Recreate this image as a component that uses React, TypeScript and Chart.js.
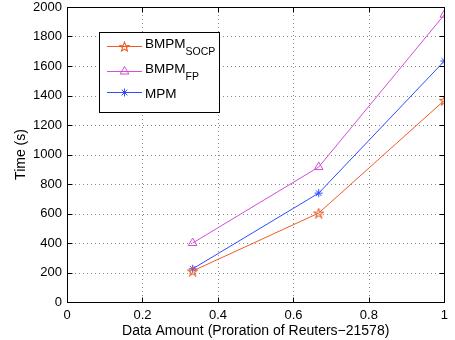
import React, { useEffect, useRef } from "react";
import { Chart, registerables } from "chart.js";
import { drawPoint } from "chart.js/helpers";
Chart.register(...registerables);

const xValues = [0.333, 0.667, 1];
const socpTimes = [210, 603, 1367];
const fpTimes = [400, 915, 1948];
const mpmTimes = [225, 738, 1634];
const xTicks = [0, 0.2, 0.4, 0.6, 0.8, 1];
const yTicks = [0, 200, 400, 600, 800, 1000, 1200, 1400, 1600, 1800, 2000];
const legendMain = ["BMPM", "BMPM", "MPM"];
const legendSub = ["SOCP", "FP", ""];
const xTitle = "Data Amount (Proration of Reuters\u221221578)";
const yTitle = "Time (s)";

const FONT = "'Liberation Sans', Arial, Helvetica, sans-serif";
const C_SOCP = "#f05a24";
const C_FP = "#d24fd6";
const C_MPM = "#2f4dff";

function makePentagram(color: string, size: number) {
  const c = document.createElement("canvas");
  c.width = size;
  c.height = size;
  const ctx = c.getContext("2d")!;
  const cx = size / 2, cy = size / 2 + 0.5;
  const R = size / 2 - 0.6, r = R * 0.42;
  ctx.beginPath();
  for (let i = 0; i < 10; i++) {
    const rad = i % 2 ? r : R;
    const a = -Math.PI / 2 + (i * Math.PI) / 5;
    const px = cx + rad * Math.cos(a), py = cy + rad * Math.sin(a);
    if (i === 0) ctx.moveTo(px, py); else ctx.lineTo(px, py);
  }
  ctx.closePath();
  ctx.strokeStyle = color;
  ctx.lineWidth = 1.1;
  ctx.stroke();
  return c;
}

const framePlugin = {
  id: "matlabFrame",
  beforeDatasetsDraw(chart: any) {
    const { ctx, chartArea: a, scales } = chart;
    ctx.save();
    ctx.strokeStyle = "#8a8a8a";
    ctx.lineWidth = 1;
    ctx.setLineDash([1, 3]);
    xTicks.slice(1, -1).forEach((v) => {
      const x = Math.round(scales.x.getPixelForValue(v)) + 0.5;
      ctx.beginPath(); ctx.moveTo(x, a.top); ctx.lineTo(x, a.bottom); ctx.stroke();
    });
    yTicks.slice(1, -1).forEach((v) => {
      const y = Math.round(scales.y.getPixelForValue(v)) + 0.5;
      ctx.beginPath(); ctx.moveTo(a.left, y); ctx.lineTo(a.right, y); ctx.stroke();
    });
    ctx.restore();
  },
  afterDatasetsDraw(chart: any) {
    const { ctx, chartArea: a, scales } = chart;
    ctx.save();
    ctx.setLineDash([]);
    ctx.strokeStyle = "#000";
    ctx.lineWidth = 1;
    const L = Math.round(a.left) + 0.5, R = Math.round(a.right) + 0.5;
    const T = Math.round(a.top) + 0.5, B = Math.round(a.bottom) + 0.5;
    ctx.strokeRect(L, T, R - L, B - T);
    const tl = 5;
    xTicks.forEach((v) => {
      const x = Math.round(scales.x.getPixelForValue(v)) + 0.5;
      ctx.beginPath();
      ctx.moveTo(x, B); ctx.lineTo(x, B - tl);
      ctx.moveTo(x, T); ctx.lineTo(x, T + tl);
      ctx.stroke();
    });
    yTicks.forEach((v) => {
      const y = Math.round(scales.y.getPixelForValue(v)) + 0.5;
      ctx.beginPath();
      ctx.moveTo(L, y); ctx.lineTo(L + tl, y);
      ctx.moveTo(R, y); ctx.lineTo(R - tl, y);
      ctx.stroke();
    });
    // legend
    const bx = 99.5, by = 32.5, bw = 120, bh = 80;
    ctx.fillStyle = "#fff";
    ctx.fillRect(bx, by, bw, bh);
    ctx.strokeStyle = "#000";
    ctx.strokeRect(bx, by, bw, bh);
    const rowsY = [46, 71, 92];
    chart.data.datasets.forEach((ds: any, i: number) => {
      const y = rowsY[i] + 0.5;
      ctx.strokeStyle = ds.borderColor;
      ctx.lineWidth = 1;
      ctx.beginPath(); ctx.moveTo(107, y); ctx.lineTo(142, y); ctx.stroke();
      ctx.fillStyle = "rgba(0,0,0,0)";
      drawPoint(ctx, { pointStyle: ds.pointStyle, radius: ds.pointRadius, rotation: 0, borderWidth: 1 } as any, 124.5, y);
      ctx.fillStyle = "#000";
      ctx.textAlign = "left";
      ctx.textBaseline = "alphabetic";
      ctx.font = `13.5px ${FONT}`;
      const sub = legendSub[i];
      const baseY = sub ? rowsY[i] + 1.5 : rowsY[i] + 5.5;
      ctx.fillText(legendMain[i], 145, baseY);
      if (sub) {
        const w = ctx.measureText(legendMain[i]).width;
        ctx.font = `10.5px ${FONT}`;
        ctx.fillText(sub, 145 + w, baseY + 7.5);
      }
    });
    ctx.restore();
  },
};

export default function App() {
  const ref = useRef<HTMLCanvasElement>(null);
  useEffect(() => {
    document.body.style.margin = "0";
    const star = makePentagram(C_SOCP, 11);
    const toXY = (ys: number[]) => xValues.map((x, i) => ({ x, y: ys[i] }));
    const chart = new Chart(ref.current!, {
      type: "line",
      data: {
        datasets: [
          { label: "BMPM_SOCP", data: toXY(socpTimes), borderColor: C_SOCP, backgroundColor: "rgba(0,0,0,0)", borderWidth: 1, pointStyle: star as any, pointRadius: 5, pointBorderColor: C_SOCP, pointBackgroundColor: "rgba(0,0,0,0)" },
          { label: "BMPM_FP", data: toXY(fpTimes), borderColor: C_FP, backgroundColor: "rgba(0,0,0,0)", borderWidth: 1, pointStyle: "triangle", pointRadius: 5, pointBorderColor: C_FP, pointBackgroundColor: "rgba(0,0,0,0)", pointBorderWidth: 1 },
          { label: "MPM", data: toXY(mpmTimes), borderColor: C_MPM, backgroundColor: "rgba(0,0,0,0)", borderWidth: 1, pointStyle: "star", pointRadius: 4, pointBorderColor: C_MPM, pointBackgroundColor: "rgba(0,0,0,0)", pointBorderWidth: 1 },
        ],
      },
      options: {
        animation: false,
        responsive: false,
        events: [],
        layout: { padding: { left: 0, top: 7, right: 7, bottom: 0 } },
        plugins: { legend: { display: false }, tooltip: { enabled: false } },
        scales: {
          x: {
            type: "linear", min: 0, max: 1,
            afterBuildTicks: (s: any) => { s.ticks = xTicks.map((v) => ({ value: v })); },
            afterFit: (s: any) => { s.height = 38; },
            grid: { display: false, drawTicks: false },
            border: { display: false },
            ticks: { color: "#000", font: { family: FONT, size: 13, lineHeight: 1 }, padding: 7, maxRotation: 0, autoSkip: false, callback: (v: any) => String(v) },
            title: { display: true, text: xTitle, color: "#000", font: { family: FONT, size: 14, lineHeight: 1 }, padding: { top: 0, bottom: 2 } },
          },
          y: {
            type: "linear", min: 0, max: 2000,
            afterBuildTicks: (s: any) => { s.ticks = yTicks.map((v) => ({ value: v })); },
            afterFit: (s: any) => { s.width = 67; },
            grid: { display: false, drawTicks: false },
            border: { display: false },
            ticks: { color: "#000", font: { family: FONT, size: 13, lineHeight: 0.05 }, padding: 5, autoSkip: false, callback: (v: any) => String(v) },
            title: { display: true, text: yTitle, color: "#000", font: { family: FONT, size: 14, lineHeight: 1 }, padding: { top: 14, bottom: 0 } },
          },
        },
      },
      plugins: [framePlugin],
    } as any);
    return () => chart.destroy();
  }, []);
  return (
    <div style={{ position: "fixed", left: 0, top: 0, width: 455, height: 340, background: "#fff" }}>
      <canvas ref={ref} width={455} height={340} />
    </div>
  );
}
